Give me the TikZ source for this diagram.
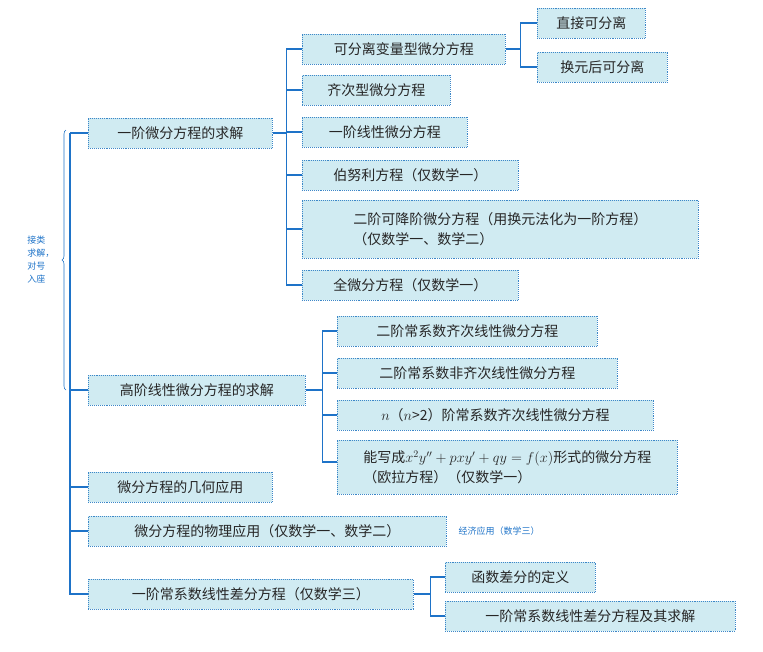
\documentclass[tikz,border=0pt]{standalone}
\usepackage{fontspec}
\setmainfont{Noto Sans CJK SC}
\usetikzlibrary{decorations.pathreplacing,calc}
\definecolor{boxfill}{RGB}{208,235,242}
\definecolor{boxline}{RGB}{60,135,200}
\definecolor{treeline}{RGB}{30,115,200}
\tikzset{
  box/.style={draw=boxline, densely dotted, line width=0.9pt, fill=boxfill, anchor=west,
    inner xsep=8pt, inner ysep=3pt, minimum height=30pt, align=left,
    font=\fontsize{14}{20}\selectfont, text=black!85},
  link/.style={draw=treeline, line width=1.1pt},
  note/.style={text=treeline, font=\fontsize{9}{13}\selectfont, align=left}
}
\begin{document}
\begin{tikzpicture}[x=1pt,y=-1pt]
    \useasboundingbox (0,0) rectangle (763,651);
    
    % level one
    \node[box, minimum width=184] (first) at (88,133) {一阶微分方程的求解};
    \node[box, minimum width=217] (high) at (88,390) {高阶线性微分方程的求解};
    \node[box, minimum width=184] (geom) at (88,487) {微分方程的几何应用};
    \node[box, minimum width=358] (phys) at (88,531) {微分方程的物理应用（仅数学一、数学二）};
    \node[box, minimum width=325] (diff) at (88,594) {一阶常系数线性差分方程（仅数学三）};
    \node[note, anchor=west] (econ) at (455,531) {经济应用（数学三）};
    \coordinate (root) at (70,133);
    
    % first order
    \node[box, minimum width=203] (sep) at (302,49) {可分离变量型微分方程};
    \node[box, minimum width=148] (homog) at (302,90) {齐次型微分方程};
    \node[box, minimum width=165] (lin) at (302,132) {一阶线性微分方程};
    \node[box, minimum width=216] (bern) at (302,175) {伯努利方程（仅数学一）};
    \node[box, minimum width=396, minimum height=58] (reduce) at (302,229) {二阶可降阶微分方程（用换元法化为一阶方程）\\（仅数学一、数学二）};
    \node[box, minimum width=216] (exact) at (302,285) {全微分方程（仅数学一）};
    \node[box, minimum width=108] (direct) at (537,23) {直接可分离};
    \node[box, minimum width=130] (subst) at (537,67) {换元后可分离};
    
    % higher order
    \node[box, minimum width=260] (hom2) at (337,331) {二阶常系数齐次线性微分方程};
    \node[box, minimum width=280] (inh2) at (337,373) {二阶常系数非齐次线性微分方程};
    \node[box, minimum width=316] (homn) at (337,415) {$n$（$n$>2）阶常系数齐次线性微分方程};
    \node[box, minimum width=340, minimum height=54] (euler) at (337,467) {能写成$x^2y''+pxy'+qy=f(x)$形式的微分方程\\（欧拉方程）（仅数学一）};
    
    % difference
    \node[box, minimum width=150] (ddef) at (445,577) {函数差分的定义};
    \node[box, minimum width=290] (dsol) at (445,616) {一阶常系数线性差分方程及其求解};
    
    % connectors
    \foreach \n in {first,high,geom,phys,diff}
        \draw[link] (root) |- (\n.west);
    \foreach \n in {sep,homog,lin,bern,reduce,exact}
        \draw[link] (first.east) -- ++(14,0) |- (\n.west);
    \foreach \n in {direct,subst}
        \draw[link] (sep.east) -- ++(15,0) |- (\n.west);
    \foreach \n in {hom2,inh2,homn}
        \draw[link] (high.east) -- ++(17,0) |- (\n.west);
    \draw[link] (high.east) -- ++(17,0) |- ($(euler.west)+(0,-5)$);
    \foreach \n in {ddef,dsol}
        \draw[link] (diff.east) -- ++(17,0) |- (\n.west);
    
    % brace and side note
    \draw[treeline, line width=0.6pt, decorate, decoration={brace, amplitude=4pt}] (66,390) -- (66,130);
    \node[note, anchor=east] (hint) at (58,260) {接类\\求解，\\对号\\入座};
\end{tikzpicture}
\end{document}
